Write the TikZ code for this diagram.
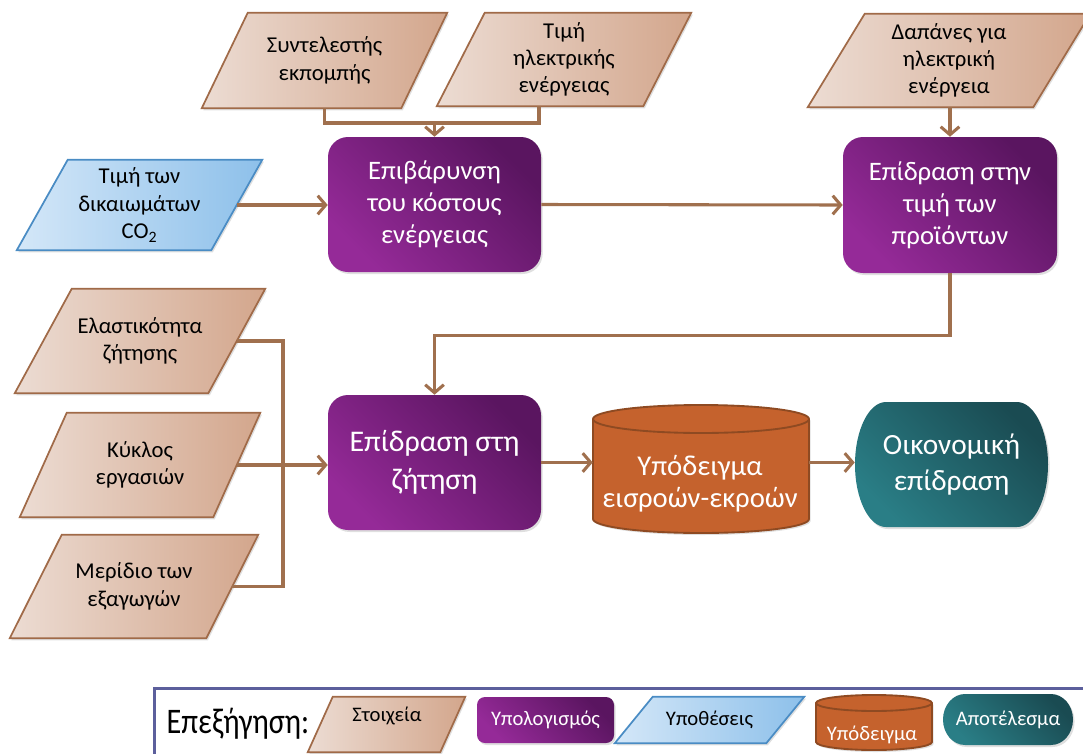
\documentclass[tikz,border=0pt]{standalone}
\usepackage{fontspec}
\setmainfont{Carlito}
\newfontfamily\legfont[FakeStretch=0.84]{Carlito}
\usetikzlibrary{arrows.meta,calc,shadows}
\definecolor{lc}{HTML}{A0704E}
\definecolor{pbL}{HTML}{ECDCD3}
\definecolor{pbR}{HTML}{D3A68C}
\definecolor{pbD}{HTML}{A06A48}
\definecolor{blL}{HTML}{D4E7F8}
\definecolor{blR}{HTML}{8DC0EA}
\definecolor{blD}{HTML}{4A8CC4}
\definecolor{puL}{HTML}{952A98}
\definecolor{puD}{HTML}{5A1560}
\definecolor{orF}{HTML}{C5622D}
\definecolor{orD}{HTML}{8E4A22}
\definecolor{teL}{HTML}{2A7E86}
\definecolor{teD}{HTML}{1A4B52}
\definecolor{legB}{HTML}{5C5F9C}
\pgfdeclarelayer{bg}
\pgfsetlayers{bg,main}
\newcommand\upx{0.75pt}
% parallelogram round a node: node name, slant (px), style
\newcommand\para[3]{%
  \path[#3] ($(#1.south west)+(-#2/2,0)$) -- ($(#1.north west)+(#2/2,0)$)
     -- ($(#1.north east)+(#2/2,0)$) -- ($(#1.south east)+(-#2/2,0)$) -- cycle;
}
% cylinder: x1, x2, top, bottom, ry, style
\newcommand\mycyl[6]{%
  \pgfmathsetmacro\cyCX{(#1+#2)/2}%
  \pgfmathsetmacro\cyKX{0.5523*(#2-#1)/2}%
  \pgfmathsetmacro\cyKY{0.5523*#5}%
  \pgfmathsetmacro\cyYT{#3+#5}%
  \pgfmathsetmacro\cyYB{#4-#5}%
  \pgfmathsetmacro\cyYF{#3+2*#5}%
  \path[#6] (#1,\cyYT) -- (#1,\cyYB) .. controls (#1,\cyYB+\cyKY) and (\cyCX-\cyKX,#4) .. (\cyCX,#4)
     .. controls (\cyCX+\cyKX,#4) and (#2,\cyYB+\cyKY) .. (#2,\cyYB) -- (#2,\cyYT)
     .. controls (#2,\cyYT-\cyKY) and (\cyCX+\cyKX,#3) .. (\cyCX,#3)
     .. controls (\cyCX-\cyKX,#3) and (#1,\cyYT-\cyKY) .. (#1,\cyYT) -- cycle;
  \draw[orD, line width=1.4pt] (#1,\cyYT) .. controls (#1,\cyYT+\cyKY) and (\cyCX-\cyKX,\cyYF) .. (\cyCX,\cyYF)
     .. controls (\cyCX+\cyKX,\cyYF) and (#2,\cyYT+\cyKY) .. (#2,\cyYT);
}
% terminator: x1, x2, top, bottom, rx, style
\newcommand\myterm[6]{%
  \pgfmathsetmacro\tmA{#1+#5}%
  \pgfmathsetmacro\tmB{#2-#5}%
  \pgfmathsetmacro\tmC{(#3+#4)/2}%
  \pgfmathsetmacro\tmK{0.5523*#5}%
  \pgfmathsetmacro\tmL{0.5523*(#4-#3)/2}%
  \path[#6] (\tmA,#3) -- (\tmB,#3) .. controls (\tmB+\tmK,#3) and (#2,\tmC-\tmL) .. (#2,\tmC)
     .. controls (#2,\tmC+\tmL) and (\tmB+\tmK,#4) .. (\tmB,#4) -- (\tmA,#4)
     .. controls (\tmA-\tmK,#4) and (#1,\tmC+\tmL) .. (#1,\tmC)
     .. controls (#1,\tmC-\tmL) and (\tmA-\tmK,#3) .. (\tmA,#3) -- cycle;
}
\begin{document}
\begin{tikzpicture}[x=0.75pt,y=-0.75pt,
  every node/.style={inner sep=0pt},
  shd/.style={drop shadow={opacity=0.25,shadow xshift=1.2pt,shadow yshift=-1.5pt}},
  inbox/.style={rectangle, inner sep=0pt, align=center, text=black,
     font=\fontsize{17}{20.5}\selectfont},
  instyle/.style={draw=pbD, line width=1.3pt, left color=pbL, right color=pbR, line join=miter, shd},
  asmstyle/.style={draw=blD, line width=1.3pt, left color=blL, right color=blR, line join=miter, shd},
  calcbox/.style={rectangle, rounded corners=15pt, inner sep=0pt, top color=puL,
     bottom color=puD, shading angle=135, text=white, align=center,
     font=\fontsize{20}{24}\selectfont, shd},
  cylstyle/.style={fill=orF, draw=orD, line width=1.4pt, shd},
  termstyle/.style={top color=teL, bottom color=teD, shading angle=135, shd},
  conn/.style={draw=lc, line width=2.3pt},
  arr/.style={conn, -{Straight Barb[length=6pt,width=14pt]}},
  legtxt/.style={font=\fontsize{15.5}{18}\selectfont}
]
\useasboundingbox (0,0) rectangle (1083,754);

% inputs (node = mid-width body of the parallelogram)
\node[inbox, minimum width=199*\upx, minimum height=95*\upx] (p1) at (324.5,60.5) {Συντελεστής\\εκπομπής};
\node[inbox, minimum width=206*\upx, minimum height=93*\upx] (p2) at (564,59.5) {Τιμή\\ηλεκτρικής\\ενέργειας};
\node[inbox, minimum width=225*\upx, minimum height=93*\upx] (p3) at (949,60.5) {Δαπάνες για\\ηλεκτρική\\ενέργεια};
\node[inbox, minimum width=194*\upx, minimum height=90*\upx] (co2) at (139.5,205) {Τιμή των\\δικαιωμάτων\\CO\textsubscript{2}};
\node[inbox, minimum width=193*\upx, minimum height=104*\upx] (p4) at (140,341) {Ελαστικότητα\\ζήτησης};
\node[inbox, minimum width=193*\upx, minimum height=104*\upx] (p5) at (140,465) {Κύκλος\\εργασιών};
\node[inbox, minimum width=196*\upx, minimum height=103*\upx] (p6) at (134,586.5) {Μερίδιο των\\εξαγωγών};

% calculations
\node[calcbox, minimum width=213*\upx, minimum height=135*\upx] (box1) at (434.5,204.5) {Επιβάρυνση\\του κόστους\\ενέργειας};
\node[calcbox, minimum width=214*\upx, minimum height=136*\upx] (box2) at (950,205) {Επίδραση στην\\τιμή των\\προϊόντων};
\node[calcbox, minimum width=213*\upx, minimum height=135*\upx, font=\fontsize{22.5}{28}\selectfont] (box3) at (434.5,462.5) {Επίδραση στη\\ζήτηση};

% model and result
\node[minimum width=216*\upx, minimum height=128*\upx] (cyl) at (701,469) {};
\node[text=white, align=center, font=\fontsize{21.5}{24}\selectfont] (cylt) at (700,484) {Υπόδειγμα\\εισροών-εκροών};
\node[minimum width=193*\upx, minimum height=125*\upx, text=white, align=center, font=\fontsize{22}{27.5}\selectfont] (term) at (951.5,464.5) {Οικονομική\\επίδραση};

% legend
\node[draw=legB, line width=2.3pt, minimum width=960*\upx, minimum height=110*\upx, anchor=north west] (leg) at (153,687) {};
\node[font=\legfont\fontsize{27}{30}\selectfont] (legt) at (238,724) {Επεξήγηση:};
\node[inbox, minimum width=132*\upx, minimum height=55*\upx] (l1) at (386.5,724.5) {};
\node[legtxt] (l1t) at (387,716) {Στοιχεία};
\node[calcbox, rounded corners=6pt, minimum width=137*\upx, minimum height=46*\upx, legtxt] (l2) at (545.5,720) {Υπολογισμός};
\node[inbox, minimum width=151*\upx, minimum height=46*\upx, legtxt] (l3) at (709.5,720) {Υποθέσεις};
\node[legtxt, text=white] (l4) at (872,735) {Υπόδειγμα};
\node[legtxt, text=white] (l5) at (1008,720) {Αποτέλεσμα};

\begin{pgfonlayer}{bg}
\para{p1}{46}{instyle}
\para{p2}{48}{instyle}
\para{p3}{57}{instyle}
\para{co2}{51}{asmstyle}
\para{p4}{57}{instyle}
\para{p5}{47}{instyle}
\para{p6}{52}{instyle}
\para{l1}{25}{instyle}
\para{l3}{38}{asmstyle}
\mycyl{593}{809}{405}{533}{14}{cylstyle}
\myterm{855}{1048}{402}{527}{31}{termstyle}
\mycyl{816}{932}{695}{750}{8}{cylstyle}
\myterm{943}{1073}{694}{745}{22}{termstyle}
\end{pgfonlayer}

% connectors
\coordinate (j1) at (box1.north |- 0,123);
\coordinate (p2b) at ($(p2.south)+(-25,0)$);
\draw[conn] (p1.south) |- (j1) -| (p2b);
\draw[arr] (j1) -- (box1.north);
\draw[arr] (box2.north |- p3.south) -- (box2.north);
\draw[arr] (co2.east) -- (co2.east -| box1.west);
\draw[arr] (box1.east) -- (box2.west);
\draw[arr] (box2.south) -- ++(0,62) -| (box3.north);
\coordinate (bus) at (283,465);
\draw[conn] (p4.east) -| (bus) |- (p6.east);
\draw[arr] (p5.east) -- (p5.east -| box3.west);
\draw[arr] (box3.east) -- (box3.east -| cyl.west);
\draw[arr] (box3.east -| cyl.east) -- (box3.east -| term.west);
\end{tikzpicture}
\end{document}
